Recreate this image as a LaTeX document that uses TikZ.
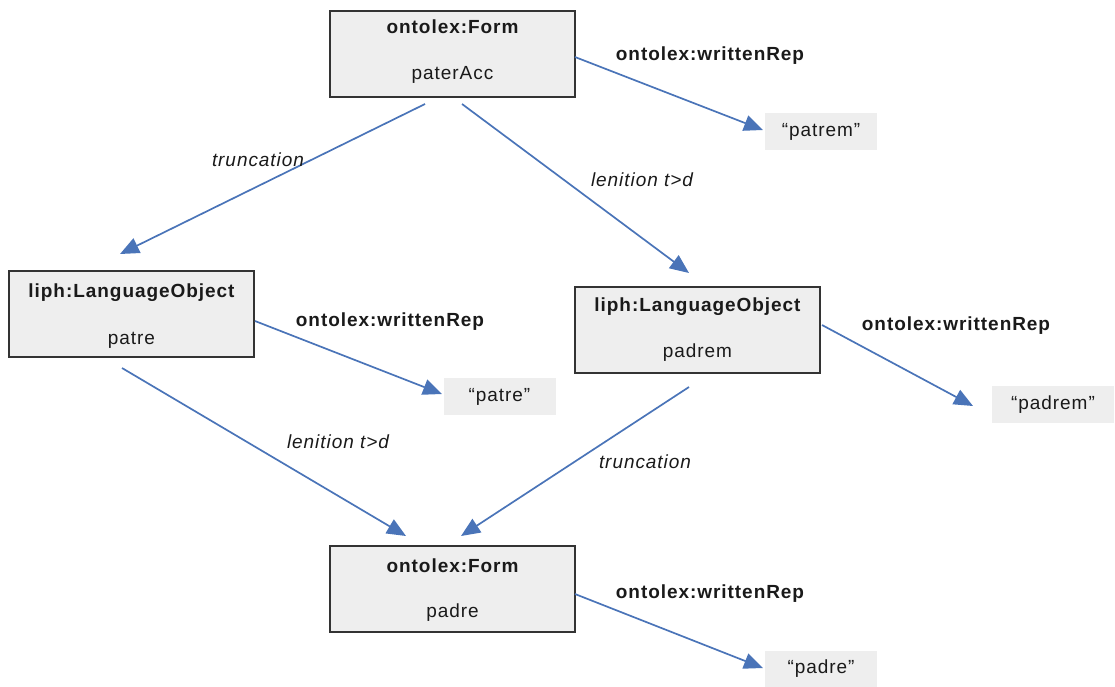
\documentclass[tikz,border=0pt]{standalone}
\usepackage{fontspec}
\setmainfont[LetterSpace=5]{Liberation Sans}
\usetikzlibrary{arrows.meta}
\definecolor{boxfill}{HTML}{EEEEEE}
\definecolor{boxline}{HTML}{333333}
\definecolor{arr}{HTML}{4A74B8}
\definecolor{txt}{HTML}{1A1A1A}
\tikzset{
  cls/.style={draw=boxline, line width=2pt, fill=boxfill, minimum width=245pt, minimum height=86pt, inner sep=0pt},
  lit/.style={fill=boxfill, minimum width=112pt, minimum height=37pt, inner sep=0pt, font=\fontsize{19}{21}\selectfont, text=txt},
  ttl/.style={font=\fontsize{19}{21}\selectfont\bfseries, text=txt},
  nm/.style={font=\fontsize{19}{21}\selectfont, text=txt},
  rel/.style={font=\fontsize{19}{21}\selectfont\bfseries, text=txt},
  ilab/.style={font=\fontsize{19}{21}\selectfont\itshape, text=txt},
  link/.style={draw=arr, line width=1.7pt, -{Triangle[length=19pt,width=16pt]}},
}
\begin{document}
\begin{tikzpicture}[x=1pt,y=-1pt]
\useasboundingbox (0,0) rectangle (1115,686);
% class boxes
\node[cls] (f1) at (452.5,53.5) {};
\node[ttl] (f1t) at (452.5,27) {ontolex:Form};
\node[nm] (f1n) at (452.5,75) {paterAcc};

\node[cls] (lo1) at (131.5,314) {};
\node[ttl] (lo1t) at (131.5,293) {liph:LanguageObject};
\node[nm] (lo1n) at (131.5,340) {patre};

\node[cls] (lo2) at (697.5,329.5) {};
\node[ttl] (lo2t) at (697.5,307) {liph:LanguageObject};
\node[nm] (lo2n) at (697.5,353) {padrem};

\node[cls] (f2) at (452.5,589) {};
\node[ttl] (f2t) at (452.5,566) {ontolex:Form};
\node[nm] (f2n) at (452.5,613) {padre};

% literals
\node[lit] (l1) at (821,131.5) {“patrem”};
\node[lit] (l2) at (499.5,396.5) {“patre”};
\node[lit, minimum width=122pt] (l3) at (1053,404.5) {“padrem”};
\node[lit] (l4) at (821,669) {“padre”};

% connector endpoints
\coordinate (a1s) at (575,57);   \coordinate (a1e) at (763,130);
\coordinate (a2s) at (425,104);  \coordinate (a2e) at (120,254);
\coordinate (a3s) at (462,104);  \coordinate (a3e) at (689,273);
\coordinate (a4s) at (255,321);  \coordinate (a4e) at (442,394);
\coordinate (a5s) at (822,325);  \coordinate (a5e) at (973,406);
\coordinate (a6s) at (122,368);  \coordinate (a6e) at (406,536);
\coordinate (a7s) at (689,387);  \coordinate (a7e) at (461,536);
\coordinate (a8s) at (575,594);  \coordinate (a8e) at (763,668);

\draw[link] (a1s) -- (a1e);
\draw[link] (a2s) -- (a2e);
\draw[link] (a3s) -- (a3e);
\draw[link] (a4s) -- (a4e);
\draw[link] (a5s) -- (a5e);
\draw[link] (a6s) -- (a6e);
\draw[link] (a7s) -- (a7e);
\draw[link] (a8s) -- (a8e);

% labels
\node[rel] (r1) at (710,56) {ontolex:writtenRep};
\node[ilab] (t1) at (258,160) {truncation};
\node[ilab] (t2) at (642,180) {lenition t>d};
\node[rel] (r2) at (390,322) {ontolex:writtenRep};
\node[rel] (r3) at (956,326) {ontolex:writtenRep};
\node[ilab] (t3) at (338,442) {lenition t>d};
\node[ilab] (t4) at (645,462) {truncation};
\node[rel] (r4) at (710,594) {ontolex:writtenRep};
\end{tikzpicture}
\end{document}
